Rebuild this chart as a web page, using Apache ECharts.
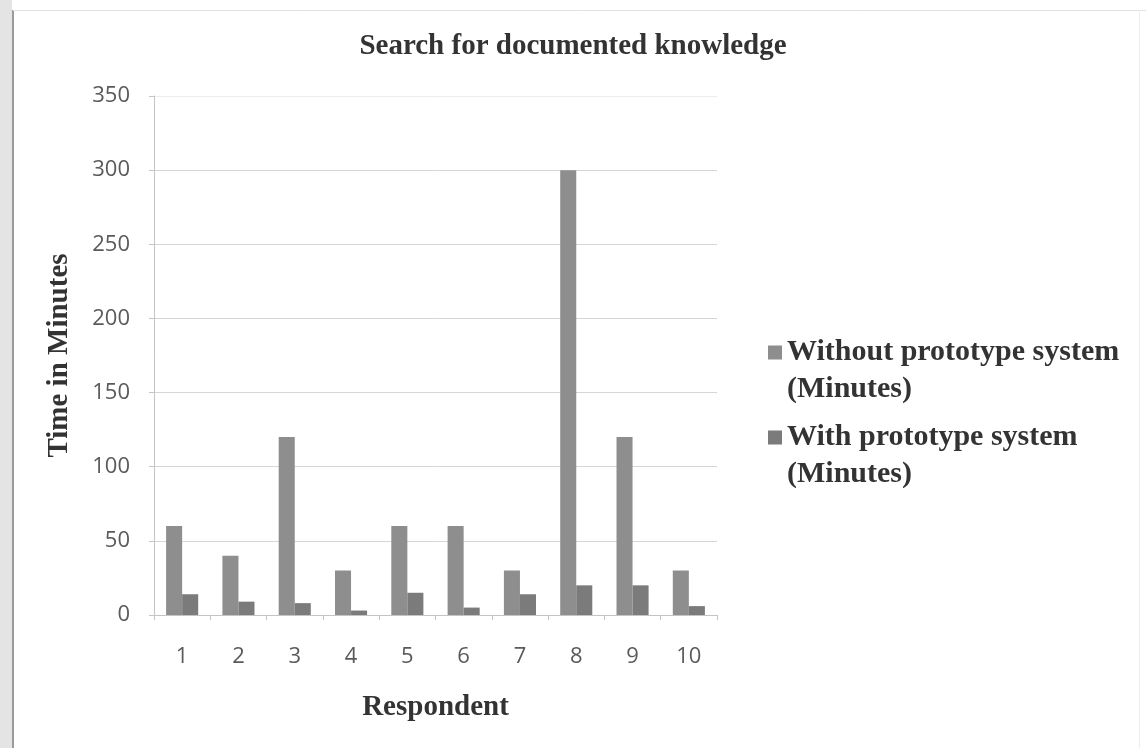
<!DOCTYPE html>
<html>
<head>
<meta charset="utf-8">
<title>Search for documented knowledge</title>
<script src="https://cdn.jsdelivr.net/npm/echarts@6/dist/echarts.min.js"></script>
<style>
  html, body { margin: 0; padding: 0; background: #ffffff; }
  #chart { width: 1146px; height: 748px; }
</style>
</head>
<body>
<div id="chart"></div>
<script>
// Respondents and minutes spent searching for documented knowledge
const respondents = ['1', '2', '3', '4', '5', '6', '7', '8', '9', '10'];
const withoutSystem = [60, 40, 120, 30, 60, 60, 30, 300, 120, 30];
const withSystem = [14, 9, 8, 3, 15, 5, 14, 20, 20, 6];
const seriesNames = ['Without prototype system\n(Minutes)', 'With prototype system\n(Minutes)'];

const serif = '"Liberation Serif", "Times New Roman", serif';
const sans = '"Open Sans", "Noto Sans", sans-serif';

// Legend marker: a square on the first text line, padded below by an
// almost invisible dot so the two-line label lines up with the square.
const legendMarker = 'path://M0,0H14V14H0Z M0,50.9H0.1V51H0Z';

const chart = echarts.init(document.getElementById('chart'), null, { renderer: 'canvas' });

chart.setOption({
  backgroundColor: '#ffffff',
  animation: false,
  title: {
    text: 'Search for documented knowledge',
    left: 'center',
    top: 27,
    textStyle: { fontFamily: serif, fontWeight: 'bold', fontSize: 29, color: '#333333' }
  },
  legend: {
    orient: 'vertical',
    left: 768,
    top: 334,
    padding: 0,
    itemGap: 11,
    itemWidth: 14,
    itemHeight: 51,
    icon: legendMarker,
    textStyle: { fontFamily: serif, fontWeight: 'bold', fontSize: 30, lineHeight: 37, color: '#333333' }
  },
  grid: { left: 154, right: 429, top: 96, bottom: 133, containLabel: false },
  xAxis: {
    type: 'category',
    data: respondents,
    name: 'Respondent',
    nameLocation: 'middle',
    nameGap: 78,
    nameTextStyle: { fontFamily: serif, fontWeight: 'bold', fontSize: 29, color: '#333333' },
    axisLine: { lineStyle: { color: '#c4c4c4', width: 1 } },
    axisTick: { show: true, length: 5, lineStyle: { color: '#c4c4c4' } },
    axisLabel: { fontFamily: sans, fontSize: 22, color: '#5a5a5a', margin: 31 }
  },
  yAxis: {
    type: 'value',
    min: 0,
    max: 350,
    interval: 50,
    name: 'Time in Minutes',
    nameLocation: 'middle',
    nameGap: 80,
    nameTextStyle: { fontFamily: serif, fontWeight: 'bold', fontSize: 29, color: '#333333' },
    axisLine: { show: true, lineStyle: { color: '#c4c4c4', width: 1 } },
    axisTick: { show: true, length: 5, lineStyle: { color: '#c4c4c4' } },
    axisLabel: { fontFamily: sans, fontSize: 22, color: '#5a5a5a', margin: 24 },
    splitLine: {
      lineStyle: {
        color: ['#d6d6d6', '#d6d6d6', '#d6d6d6', '#d6d6d6', '#d6d6d6', '#d6d6d6', '#d6d6d6', '#ececec'],
        width: 1
      }
    }
  },
  series: [
    {
      name: seriesNames[0],
      type: 'bar',
      data: withoutSystem,
      barGap: '0%',
      barCategoryGap: '43%',
      itemStyle: { color: '#8e8e8e' }
    },
    {
      name: seriesNames[1],
      type: 'bar',
      data: withSystem,
      barGap: '0%',
      barCategoryGap: '43%',
      itemStyle: { color: '#7b7b7b' }
    }
  ],
  graphic: [
    // page edge and frame around the chart
    { type: 'rect', left: 0, top: 0, shape: { width: 12, height: 748 }, style: { fill: '#e4e4e4' }, silent: true },
    { type: 'line', shape: { x1: 13, y1: 10, x2: 13, y2: 748 }, style: { stroke: '#9a9a9a', lineWidth: 2 }, silent: true },
    { type: 'line', shape: { x1: 13, y1: 10.5, x2: 1146, y2: 10.5 }, style: { stroke: '#e2e2e2', lineWidth: 1 }, silent: true },
    { type: 'line', shape: { x1: 1139.5, y1: 10, x2: 1139.5, y2: 748 }, style: { stroke: '#eeeeee', lineWidth: 1 }, silent: true }
  ]
});
</script>
</body>
</html>
